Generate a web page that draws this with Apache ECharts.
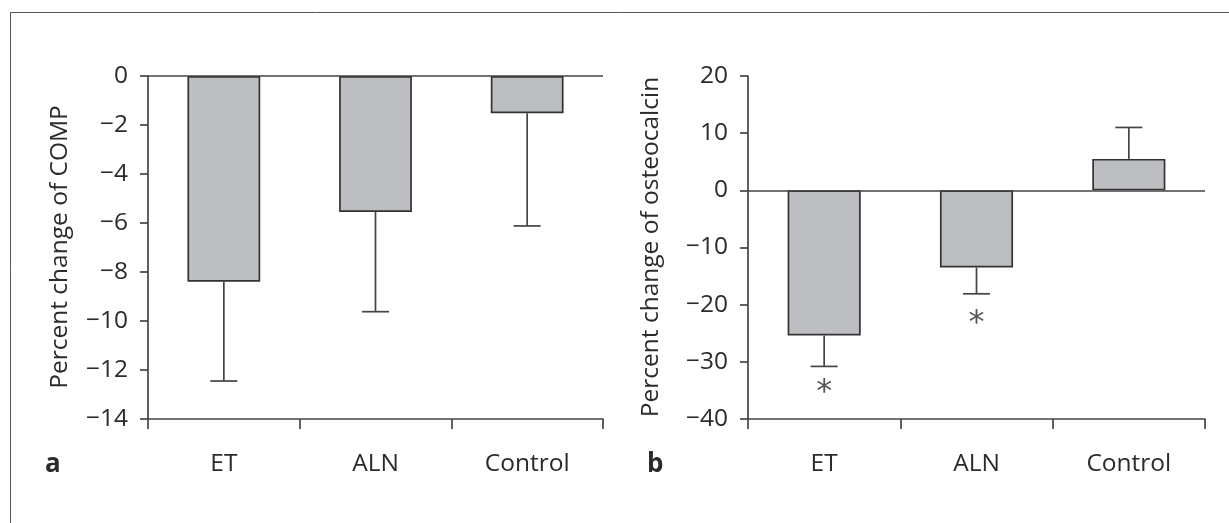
<!DOCTYPE html>
<html>
<head>
<meta charset="utf-8">
<script src="https://cdn.jsdelivr.net/npm/echarts@6/dist/echarts.min.js"></script>
<style>
html,body{margin:0;padding:0;background:#fff;}
#chart{width:1229px;height:523px;}
</style>
</head>
<body>
<div id="chart"></div>
<script>
// ---- data ----
var categories = ['ET', 'ALN', 'Control'];
// panel a: percent change of COMP
var compMean = [-8.4, -5.55, -1.52];
var compErr = [-12.45, -9.62, -6.12];
// panel b: percent change of osteocalcin
var ocMean = [-25.4, -13.5, 5.5];
var ocErr = [-30.8, -18.1, 11.0];
// significance markers (panel b)
var ocSigLabel = ['*', '*', ''];
var ocSigPos = [-34.5, -22.4, null];
// axis tick settings
var yA = {min: -14, max: 0, interval: 2};
var yB = {min: -40, max: 20, interval: 10};
var yNameA = 'Percent change of COMP';
var yNameB = 'Percent change of osteocalcin';
var panelLabels = ['a', 'b'];

var FONT = '"Open Sans", "Noto Sans", sans-serif';
var TXT = '#2b2b2b';
var AX = '#444';
var FS = 24.5;

function minusFmt(v) { return String(v).replace('-', '\u2212'); }

function errRender(params, api) {
  var c = api.value(0);
  var p0 = api.coord([c, api.value(1)]);
  var p1 = api.coord([c, api.value(2)]);
  var half = 13.5;
  var st = {stroke: AX, lineWidth: 1.7, fill: null};
  return {
    type: 'group',
    children: [
      {type: 'line', shape: {x1: p0[0], y1: p0[1], x2: p1[0], y2: p1[1]}, style: st},
      {type: 'line', shape: {x1: p1[0] - half, y1: p1[1], x2: p1[0] + half, y2: p1[1]}, style: st}
    ]
  };
}

function xAxisCfg(gi) {
  return {
    type: 'category', gridIndex: gi, data: categories, position: 'bottom',
    boundaryGap: true,
    axisLine: {show: true, onZero: false, lineStyle: {color: AX, width: 1.7}},
    axisTick: {show: true, alignWithLabel: false, length: 10, inside: false, lineStyle: {color: AX, width: 1.7}},
    axisLabel: {color: TXT, fontSize: FS, fontFamily: FONT, margin: 33},
    splitLine: {show: false}
  };
}
function yAxisCfg(gi, s) {
  return {
    type: 'value', gridIndex: gi, min: s.min, max: s.max, interval: s.interval,
    axisLine: {show: true, onZero: false, lineStyle: {color: AX, width: 1.7}},
    axisTick: {show: true, length: 8, inside: false, lineStyle: {color: AX, width: 1.7}},
    axisLabel: {color: TXT, fontSize: FS, fontFamily: FONT, margin: 20, formatter: minusFmt},
    splitLine: {show: false}
  };
}
function zeroLine() {
  return {
    silent: true, symbol: ['none', 'none'], label: {show: false},
    lineStyle: {color: AX, width: 1.7, type: 'solid'},
    data: [{yAxis: 0}]
  };
}
var barStyle = {color: '#bdbec1', borderColor: '#333', borderWidth: 1.7};

var chart = echarts.init(document.getElementById('chart'), null, {renderer: 'canvas'});
chart.setOption({
  animation: false,
  backgroundColor: '#fff',
  grid: [
    {left: 148, top: 76, width: 455, height: 343, containLabel: false},
    {left: 748, top: 76, width: 457, height: 343, containLabel: false}
  ],
  xAxis: [xAxisCfg(0), xAxisCfg(1)],
  yAxis: [yAxisCfg(0, yA), yAxisCfg(1, yB)],
  series: [
    {type: 'bar', xAxisIndex: 0, yAxisIndex: 0, data: compMean, barWidth: '48%', itemStyle: barStyle, markLine: zeroLine(), z: 2},
    {type: 'custom', xAxisIndex: 0, yAxisIndex: 0, renderItem: errRender,
      data: categories.map(function (c, i) { return [i, compMean[i], compErr[i]]; }), z: 3},
    {type: 'bar', xAxisIndex: 1, yAxisIndex: 1, data: ocMean, barWidth: '48%', itemStyle: barStyle, markLine: zeroLine(), z: 2},
    {type: 'custom', xAxisIndex: 1, yAxisIndex: 1, renderItem: errRender,
      data: categories.map(function (c, i) { return [i, ocMean[i], ocErr[i]]; }), z: 3},
    {type: 'scatter', xAxisIndex: 1, yAxisIndex: 1, symbolSize: 0,
      data: categories.map(function (c, i) { return {value: [i, ocSigPos[i]], name: ocSigLabel[i]}; }),
      label: {show: true, position: 'inside', formatter: '{b}', color: TXT, fontSize: 32, fontFamily: '"DejaVu Sans", sans-serif', offset: [0, 5]},
      z: 4}
  ],
  graphic: [
    {type: 'rect', shape: {x: 10.5, y: 12.5, width: 1400, height: 700}, style: {fill: null, stroke: '#555', lineWidth: 1}, silent: true, z: 0},
    {type: 'text', x: 60, y: 247, rotation: Math.PI / 2,
      style: {text: yNameA, fill: TXT, font: FS + 'px ' + FONT, align: 'center', verticalAlign: 'middle'}},
    {type: 'text', x: 651, y: 247, rotation: Math.PI / 2,
      style: {text: yNameB, fill: TXT, font: FS + 'px ' + FONT, align: 'center', verticalAlign: 'middle'}},
    {type: 'text', x: 45, y: 465,
      style: {text: panelLabels[0], fill: TXT, font: 'bold 26px ' + FONT, align: 'left', verticalAlign: 'middle'}},
    {type: 'text', x: 647, y: 465,
      style: {text: panelLabels[1], fill: TXT, font: 'bold 26px ' + FONT, align: 'left', verticalAlign: 'middle'}}
  ]
});
</script>
</body>
</html>
